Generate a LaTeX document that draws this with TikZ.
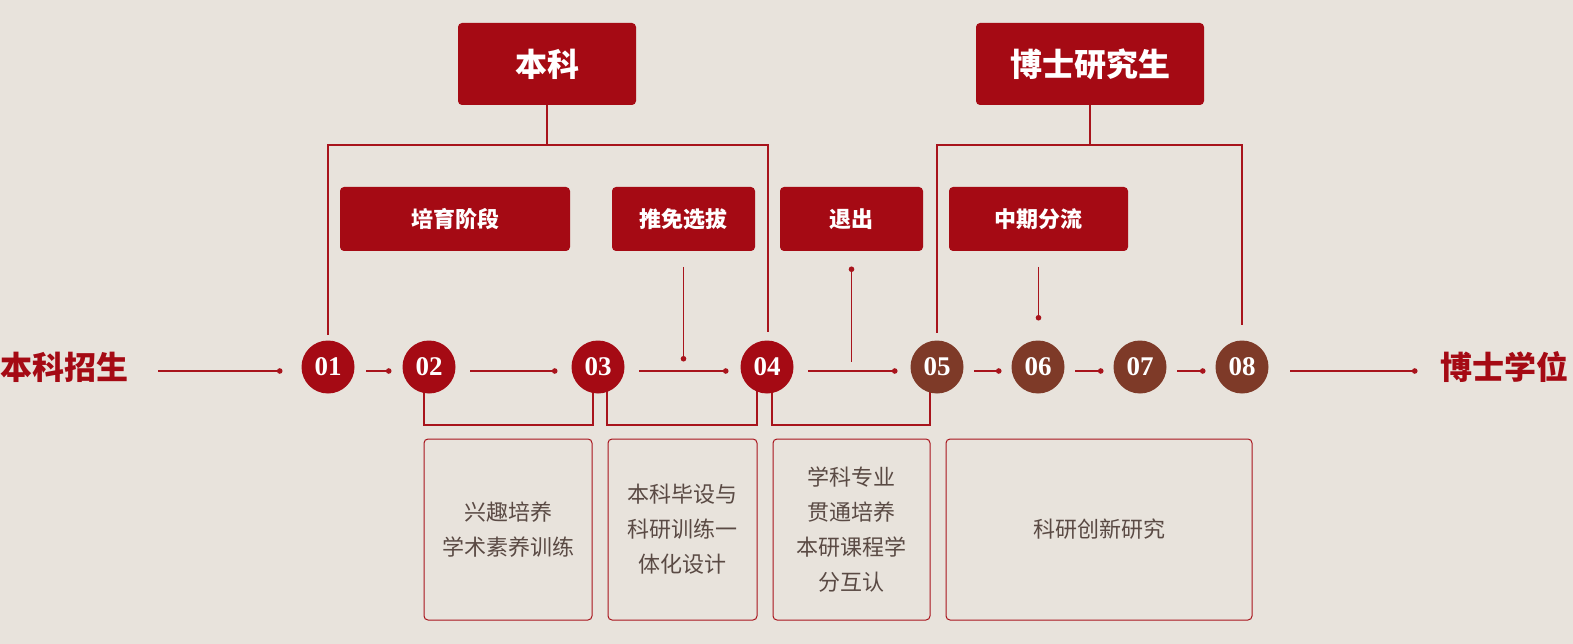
\documentclass[tikz,border=0pt]{standalone}
\usepackage{fontspec}
\newfontfamily\cjk{Noto Sans CJK SC}
\newfontfamily\numfont{Liberation Serif}
\usetikzlibrary{arrows.meta}
\definecolor{bgc}{HTML}{E8E3DC}
\definecolor{redA}{HTML}{A50A14}
\definecolor{brownA}{HTML}{7E3A28}
\definecolor{lnc}{HTML}{A8141C}
\definecolor{txtc}{HTML}{5A4A44}
\pgfdeclarelayer{bglayer}
\pgfdeclarelayer{linelayer}
\pgfsetlayers{bglayer,linelayer,main}
\begin{document}
\begin{tikzpicture}[x=1pt,y=-1pt,
  every node/.style={inner sep=0pt, outer sep=0pt},
  hdr/.style={fill=redA, rounded corners=4pt, text=white, font=\cjk\bfseries\fontsize{32}{36}\selectfont, minimum height=82pt},
  subhdr/.style={fill=redA, rounded corners=4pt, text=white, font=\cjk\bfseries\fontsize{22}{26}\selectfont, minimum height=64pt},
  circ/.style={circle, minimum size=53pt, fill=redA, text=white, font=\numfont\bfseries\fontsize{27}{28}\selectfont},
  circb/.style={circ, fill=brownA},
  endtxt/.style={text=redA, font=\cjk\bfseries\fontsize{32}{36}\selectfont},
  desc/.style={draw=lnc, line width=1pt, rounded corners=4pt, minimum height=181pt, align=center, text=txtc, font=\cjk\fontsize{22}{35}\selectfont},
  conn/.style={draw=lnc, line width=1.2pt},
  dotend/.style={conn, -{Circle[length=5.5pt]}},
  dotstart/.style={conn, {Circle[length=5.5pt]}-},
]
\begin{pgfonlayer}{bglayer}
\fill[bgc] (0,0) rectangle (1573,644);
\end{pgfonlayer}

% headers
\node[hdr, minimum width=178pt] (bk) at (547,64) {本科};
\node[hdr, minimum width=228pt] (bs) at (1090,64) {博士研究生};

% stage labels
\node[subhdr, minimum width=230pt] (py) at (455,219) {培育阶段};
\node[subhdr, minimum width=143pt] (tm) at (683.5,219) {推免选拔};
\node[subhdr, minimum width=143pt] (tc) at (851.5,219) {退出};
\node[subhdr, minimum width=179pt] (zq) at (1038.5,219) {中期分流};

% start / end
\node[endtxt] (st) at (65,367) {本科招生};
\node[endtxt] (en) at (1504,367) {博士学位};

% circles
\node[circ] (c01) at (328,367) {01};
\node[circ] (c02) at (429,367) {02};
\node[circ] (c03) at (598,367) {03};
\node[circ] (c04) at (767,367) {04};
\node[circb] (c05) at (937,367) {05};
\node[circb] (c06) at (1038,367) {06};
\node[circb] (c07) at (1140,367) {07};
\node[circb] (c08) at (1242,367) {08};

% description boxes
\node[desc, minimum width=168pt] (b1) at (508,529.5) {兴趣培养\\学术素养训练};
\node[desc, minimum width=149pt] (b2) at (682.5,529.5) {本科毕设与\\科研训练一\\体化设计};
\node[desc, minimum width=157pt] (b3) at (851.5,529.5) {学科专业\\贯通培养\\本研课程学\\分互认};
\node[desc, minimum width=306pt] (b4) at (1099,529.5) {科研创新研究};

% coordinates
\coordinate (bkj) at (547,145);
\coordinate (bsj) at (1090,145);
\coordinate (tmE) at (683.5,361.5);
\coordinate (tcE) at (851.5,362);
\coordinate (zqE) at (1038.5,320.5);
\coordinate (by) at (0,425);

\begin{pgfonlayer}{linelayer}
% top trees
\draw[conn] (bk.south) -- (bkj);
\draw[conn, shorten >=5.5pt] (bkj) -| (c01.north);
\draw[conn, shorten >=8.5pt] (bkj) -| ([xshift=1pt]c04.north);
\draw[conn] (bs.south) -- (bsj);
\draw[conn, shorten >=7.5pt] (bsj) -| (c05.north);
\draw[conn, shorten >=15.5pt] (bsj) -| (c08.north);

% stage verticals
\draw[dotend, shorten <=16pt] (tm.south) -- (tmE);
\draw[dotstart, shorten <=15.5pt] (tc.south) -- (tcE);
\draw[dotend, shorten <=16pt] (zq.south) -- (zqE);

% main flow
\draw[dotend, shorten <=29pt, shorten >=19pt] ([yshift=-4pt]st.east) -- ([yshift=-4pt]c01.west);
\draw[dotend, shorten <=11.5pt, shorten >=11pt] ([yshift=-4pt]c01.east) -- ([yshift=-4pt]c02.west);
\draw[dotend, shorten <=14.5pt, shorten >=14pt] ([yshift=-4pt]c02.east) -- ([yshift=-4pt]c03.west);
\draw[dotend, shorten <=14.5pt, shorten >=12pt] ([yshift=-4pt]c03.east) -- ([yshift=-4pt]c04.west);
\draw[dotend, shorten <=14.5pt, shorten >=13pt] ([yshift=-4pt]c04.east) -- ([yshift=-4pt]c05.west);
\draw[dotend, shorten <=10.5pt, shorten >=10pt] ([yshift=-4pt]c05.east) -- ([yshift=-4pt]c06.west);
\draw[dotend, shorten <=10.5pt, shorten >=10pt] ([yshift=-4pt]c06.east) -- ([yshift=-4pt]c07.west);
\draw[dotend, shorten <=10.5pt, shorten >=10pt] ([yshift=-4pt]c07.east) -- ([yshift=-4pt]c08.west);
\draw[dotend, shorten <=21.5pt, shorten >=22.5pt] ([yshift=-4pt]c08.east) -- ([yshift=-4pt]en.west);

% bottom brackets
\draw[conn] ([xshift=-5pt]c02.center) -- ([xshift=-5pt]c02.center |- by) -| ([xshift=-5pt]c03.center);
\draw[conn] ([xshift=9pt]c03.center) -- ([xshift=9pt]c03.center |- by) -| ([xshift=-10pt]c04.center);
\draw[conn] ([xshift=5pt]c04.center) -- ([xshift=5pt]c04.center |- by) -| ([xshift=-7pt]c05.center);
\end{pgfonlayer}
\end{tikzpicture}
\end{document}
